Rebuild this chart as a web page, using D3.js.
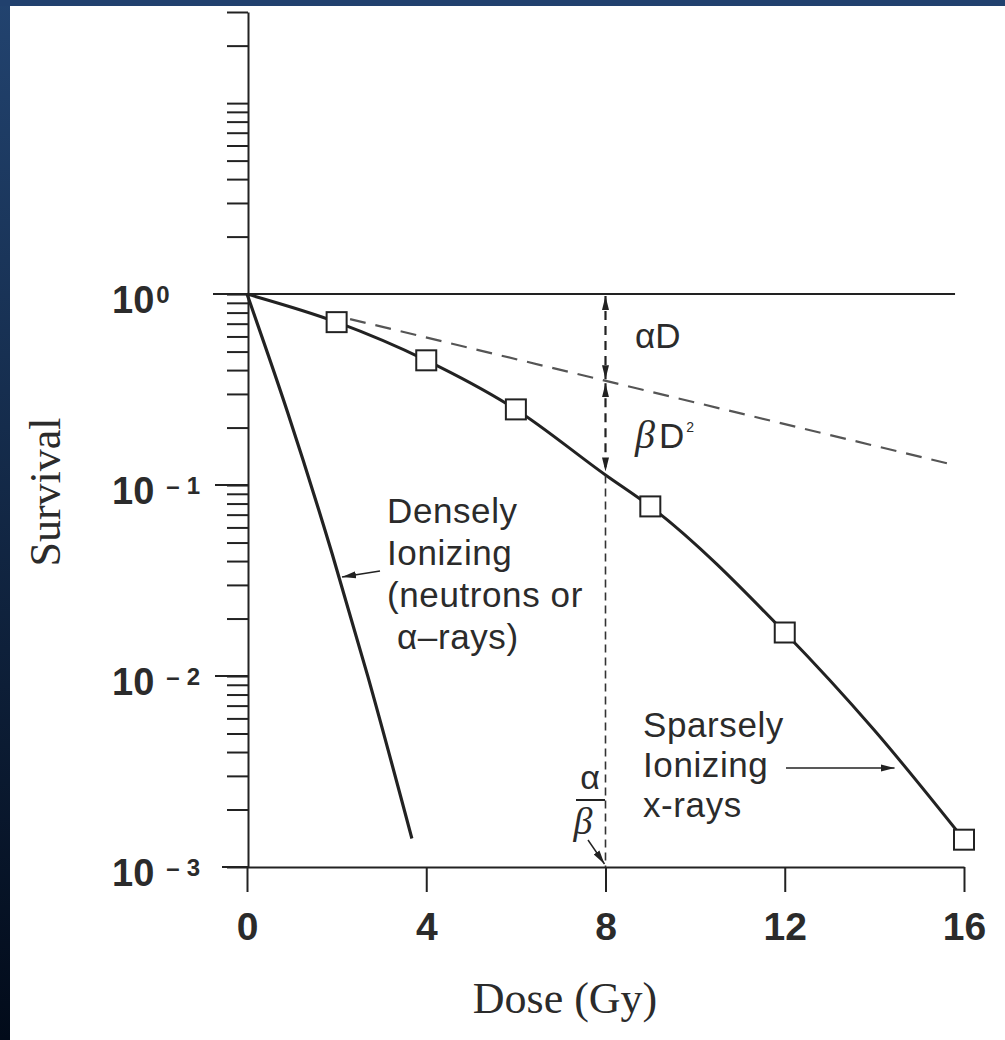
<!DOCTYPE html>
<html>
<head>
<meta charset="utf-8">
<script src="https://cdn.jsdelivr.net/npm/d3@7"></script>
<style>
  body { margin: 0; background: #fff; }
  svg { display: block; }
  .sans { font-family: 'Liberation Sans', Arial, sans-serif; fill: #2b2b2b; }
  .serif { font-family: 'Liberation Serif', 'Times New Roman', serif; fill: #2b2b2b; }
</style>
</head>
<body>
<svg id="chart" width="1005" height="1040"></svg>
<script>
// values (dose in Gy, survival fraction)
var sparseDose = [0, 2, 4, 6, 8, 9, 12, 14, 16]
var sparseSurvival = [1, 0.713, 0.45, 0.249, 0.113, 0.0773, 0.0169, 0.0052, 0.00139]
var pointDose = [2, 4, 6, 9, 12, 16]
var pointSurvival = [0.713, 0.45, 0.249, 0.0773, 0.0169, 0.00139]
var denseDose = [0, 0.9, 1.9, 2.7, 3.68]
var denseSurvival = [1, 0.243, 0.0437, 0.0099, 0.00141]
var linearDose = [2.3, 15.8]
var linearSurvival = [0.74, 0.127]
var ratioDose = 8
var ratioMarks = [1, 0.35, 0.115] // 10^0 line, alpha D line, curve
var xTicks = [0, 4, 8, 12, 16]
var decades = [1, 0.1, 0.01, 0.001]
var expSigns = ['', '–', '–', '–']
var expDigits = ['0', '1', '2', '3']

;(function () {
  var svg = d3.select('#chart')
  var ink = '#222'

  // dark blue frame on the left and top
  var defs = svg.append('defs')
  var grad = defs.append('linearGradient')
      .attr('id', 'frame').attr('x1', 0).attr('y1', 0).attr('x2', 0).attr('y2', 1)
  grad.append('stop').attr('offset', '0%').attr('stop-color', '#22436f')
  grad.append('stop').attr('offset', '100%').attr('stop-color', '#020b1a')
  svg.append('rect').attr('width', 10).attr('height', 1040).attr('fill', 'url(#frame)')
  svg.append('rect').attr('width', 1005).attr('height', 6).attr('fill', '#21416e')

  var arrow = defs.append('marker')
      .attr('id', 'arrow')
      .attr('markerUnits', 'userSpaceOnUse')
      .attr('viewBox', '0 0 14 8')
      .attr('refX', 14).attr('refY', 4)
      .attr('markerWidth', 14).attr('markerHeight', 8)
      .attr('orient', 'auto-start-reverse')
  arrow.append('path').attr('d', 'M0,0.5 L14,4 L0,7.5 Z').attr('fill', ink)

  /*
      --------------------------------------
      Scales
  */
  var x = d3.scaleLinear().domain([0, 16]).range([247, 964])
  var y = d3.scaleLog().domain([0.001, 30]).range([867, 12])

  /*
      --------------------------------------
      Axes
  */
  var yAxis = d3.axisLeft(y)
      .tickValues(y.ticks())
      .tickSize(21)
      .tickSizeOuter(0)
      .tickFormat('')

  svg.append('g').classed('ax y', true)
      .attr('transform', 'translate(248,0)')
      .call(yAxis)

  var xAxis = d3.axisBottom(x)
      .tickValues(xTicks)
      .tickSize(25)
      .tickSizeOuter(0)
      .tickPadding(20)

  var gx = svg.append('g').classed('ax x', true)
      .attr('transform', 'translate(0,' + y(0.001) + ')')
      .call(xAxis)

  gx.selectAll('text')
      .attr('class', 'sans')
      .style('font-size', '39px')
      .style('font-weight', 'bold')
      .attr('fill', '#2b2b2b')

  svg.selectAll('.ax path, .ax line')
      .attr('stroke', ink)
      .attr('stroke-width', 2)

  // longer major ticks and the 10^0 reference line
  svg.append('g').selectAll('line')
      .data(decades)
      .enter().append('line')
      .attr('x1', (d, i) => i === 0 ? 213 : i === 3 ? 222 : 215)
      .attr('x2', (d, i) => i === 0 ? x(15.8) : 248)
      .attr('y1', d => y(d))
      .attr('y2', d => y(d))
      .attr('stroke', ink)
      .attr('stroke-width', 2)

  // decade labels
  var lab = svg.append('g').selectAll('text')
      .data(decades)
      .enter().append('text')
      .attr('class', 'sans')
      .attr('x', 112)
      .attr('y', d => y(d) + 19)
      .style('font-size', '38px')
      .style('font-weight', 'bold')
      .text('10')

  lab.filter((d, i) => expSigns[i]).append('tspan')
      .attr('dx', 12)
      .attr('dy', -10)
      .style('font-size', '24px')
      .text((d, i) => '–')

  lab.append('tspan')
      .attr('dx', (d, i) => expSigns[i] ? 7 : 2)
      .attr('dy', (d, i) => expSigns[i] ? 0 : -10)
      .style('font-size', '24px')
      .text((d, i) => expDigits[i])

  /*
      --------------------------------------
      Curves
  */
  var line = d3.line()
      .x(d => x(d[0]))
      .y(d => y(d[1]))

  svg.append('path')
      .attr('d', line.curve(d3.curveLinear)(d3.zip(linearDose, linearSurvival)))
      .attr('fill', 'none')
      .attr('stroke', '#555')
      .attr('stroke-width', 2.2)
      .attr('stroke-dasharray', '16 10')

  svg.append('path')
      .attr('d', line.curve(d3.curveMonotoneX)(d3.zip(sparseDose, sparseSurvival)))
      .attr('fill', 'none')
      .attr('stroke', ink)
      .attr('stroke-width', 3)

  svg.append('path')
      .attr('d', line.curve(d3.curveMonotoneX)(d3.zip(denseDose, denseSurvival)))
      .attr('fill', 'none')
      .attr('stroke', ink)
      .attr('stroke-width', 3.2)

  svg.append('g').selectAll('rect')
      .data(d3.zip(pointDose, pointSurvival))
      .enter().append('rect')
      .attr('x', d => x(d[0]) - 10)
      .attr('y', d => y(d[1]) - 10)
      .attr('width', 20)
      .attr('height', 20)
      .attr('fill', '#fff')
      .attr('stroke', ink)
      .attr('stroke-width', 2)

  /*
      --------------------------------------
      alpha / beta construction at D = 8
  */
  var rx = x(ratioDose)
  svg.append('line')
      .attr('x1', rx).attr('x2', rx)
      .attr('y1', y(ratioMarks[2]) + 2).attr('y2', y(0.001))
      .attr('stroke', '#333').attr('stroke-width', 1.6)
      .attr('stroke-dasharray', '8 5')

  for (var i = 0; i < 2; i++) {
    svg.append('line')
        .attr('x1', rx).attr('x2', rx)
        .attr('y1', y(ratioMarks[i]) + 2).attr('y2', y(ratioMarks[i + 1]) - 2)
        .attr('stroke', ink).attr('stroke-width', 2.2)
        .attr('stroke-dasharray', '9 6')
        .attr('marker-start', 'url(#arrow)')
        .attr('marker-end', 'url(#arrow)')
  }

  svg.append('text').attr('class', 'sans')
      .attr('x', 635).attr('y', 348)
      .style('font-size', '35px')
      .text('αD')

  var bd = svg.append('text').attr('class', 'sans')
      .attr('x', 635).attr('y', 448)
      .style('font-size', '35px')
  bd.append('tspan').attr('class', 'serif')
      .style('font-style', 'italic').style('font-size', '40px')
      .text('β')
  bd.append('tspan').attr('dx', 4).text('D')
  bd.append('tspan').attr('dx', 2).attr('dy', -16).style('font-size', '14px').text('2')

  // alpha over beta fraction
  svg.append('text').attr('class', 'sans')
      .attr('x', 590).attr('y', 789)
      .attr('text-anchor', 'middle')
      .style('font-size', '34px')
      .text('α')
  svg.append('line')
      .attr('x1', 576).attr('x2', 605).attr('y1', 800).attr('y2', 800)
      .attr('stroke', ink).attr('stroke-width', 2)
  svg.append('text').attr('class', 'serif')
      .attr('x', 583).attr('y', 834)
      .attr('text-anchor', 'middle')
      .style('font-size', '38px').style('font-style', 'italic')
      .text('β')
  svg.append('line')
      .attr('x1', 588).attr('y1', 840)
      .attr('x2', rx - 1).attr('y2', y(0.001) - 3)
      .attr('stroke', ink).attr('stroke-width', 1.5)
      .attr('marker-end', 'url(#arrow)')

  /*
      --------------------------------------
      Annotations
  */
  var dense = svg.append('text').attr('class', 'sans')
      .style('font-size', '35px').style('letter-spacing', '0.6px')
  var denseLines = ['Densely', 'Ionizing', '(neutrons or', 'α–rays)']
  dense.selectAll('tspan').data(denseLines).enter().append('tspan')
      .attr('x', (d, i) => i === 3 ? 397 : 387)
      .attr('y', (d, i) => 523 + i * 42)
      .text(d => d)

  svg.append('line')
      .attr('x1', 380).attr('y1', 571)
      .attr('x2', x(2.12)).attr('y2', y(0.033))
      .attr('stroke', ink).attr('stroke-width', 1.5)
      .attr('marker-end', 'url(#arrow)')

  var sparse = svg.append('text').attr('class', 'sans')
      .style('font-size', '35px').style('letter-spacing', '0.6px')
  var sparseLines = ['Sparsely', 'Ionizing', 'x-rays']
  sparse.selectAll('tspan').data(sparseLines).enter().append('tspan')
      .attr('x', 643)
      .attr('y', (d, i) => 737 + i * 40)
      .text(d => d)

  svg.append('line')
      .attr('x1', 786).attr('y1', 768)
      .attr('x2', x(14.45)).attr('y2', 768)
      .attr('stroke', ink).attr('stroke-width', 1.5)
      .attr('marker-end', 'url(#arrow)')

  /*
      --------------------------------------
      Axis titles
  */
  svg.append('text').attr('class', 'serif')
      .attr('transform', 'translate(60,492) rotate(-90)')
      .attr('text-anchor', 'middle')
      .style('font-size', '44px')
      .text('Survival')

  svg.append('text').attr('class', 'serif')
      .attr('x', 565).attr('y', 1013)
      .attr('text-anchor', 'middle')
      .style('font-size', '44px')
      .text('Dose (Gy)')
})()
</script>
</body>
</html>
